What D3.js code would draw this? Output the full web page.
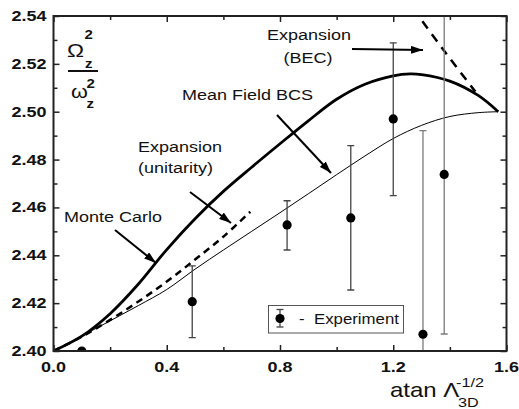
<!DOCTYPE html>
<html><head><meta charset="utf-8">
<script src="https://cdn.jsdelivr.net/npm/d3@7"></script>
<style>body{margin:0;background:#fff}svg{display:block}</style>
</head><body>
<script>
// ---- data ----
const bcsX  = [0, 0.1, 0.2, 0.3, 0.4, 0.5, 0.6, 0.7, 0.8, 0.9, 1.0, 1.1, 1.2, 1.26, 1.3, 1.4, 1.5, 1.5708];
const bcsY  = [2.400, 2.4062, 2.4156, 2.4280, 2.4424, 2.4553, 2.4667, 2.4768, 2.4866, 2.4962, 2.5052, 2.5115, 2.5150, 2.5158, 2.5155, 2.5128, 2.5068, 2.5000];
const mcX   = [0, 0.1, 0.2, 0.3, 0.4, 0.5, 0.6, 0.7, 0.8, 0.9, 1.0, 1.1, 1.2, 1.3, 1.4, 1.5, 1.5708];
const mcY   = [2.400, 2.4063, 2.4126, 2.4190, 2.4257, 2.4342, 2.4422, 2.4500, 2.4578, 2.4657, 2.4737, 2.4815, 2.4888, 2.4943, 2.4980, 2.4996, 2.5000];
const unitX = [0, 0.1, 0.2, 0.3, 0.4, 0.5, 0.6, 0.695];
const unitY = [2.400, 2.4060, 2.4130, 2.4207, 2.4290, 2.4382, 2.4478, 2.4582];
const becX  = [1.27, 1.373, 1.49];
const becY  = [2.5432, 2.5265, 2.5084];
const expX  = [0.10, 0.49, 0.825, 1.05, 1.20, 1.305, 1.38];
const expY  = [2.400, 2.4206, 2.4527, 2.4556, 2.4970, 2.4070, 2.4738];
const expLo = [2.400, 2.4056, 2.4422, 2.4255, 2.4649, 2.3500, 2.4071];
const expHi = [2.400, 2.4356, 2.4628, 2.4858, 2.5288, 2.4921, 2.5800];
const xTicks = [0.0, 0.4, 0.8, 1.2, 1.6];
const xTickLabels = ["0.0", "0.4", "0.8", "1.2", "1.6"];
const yTicks = [2.40, 2.42, 2.44, 2.46, 2.48, 2.50, 2.52, 2.54];
const yTickLabels = ["2.40", "2.42", "2.44", "2.46", "2.48", "2.50", "2.52", "2.54"];
const xMinor = [0.2, 0.6, 1.0, 1.4];
const yMinor = [2.41, 2.43, 2.45, 2.47, 2.49, 2.51, 2.53];

// ---- layout ----
const W = 519, H = 409;
const L = 53.5, R = 506.5, T = 16, B = 351;
const FONT = "'Liberation Sans', Arial, Helvetica, sans-serif";
const SX = 1.2; // horizontal stretch of glyphs in reference

const x = d3.scaleLinear().domain([0, 1.6]).range([L, R]);
const y = d3.scaleLinear().domain([2.40, 2.54]).range([B, T]);

const svg = d3.select("body").append("svg").attr("width", W).attr("height", H);
const defs = svg.append("defs");
defs.append("clipPath").attr("id", "plot").append("rect")
  .attr("x", L).attr("y", T).attr("width", R - L).attr("height", B - T);
defs.append("marker").attr("id", "arr").attr("markerUnits", "userSpaceOnUse")
  .attr("viewBox", "0 0 12 8").attr("refX", 12).attr("refY", 4)
  .attr("markerWidth", 12).attr("markerHeight", 8).attr("orient", "auto")
  .append("path").attr("d", "M0,0 L12,4 L0,8 Z").attr("fill", "#000");

function txt(str, px, py, size, opts = {}) {
  return svg.append("text")
    .attr("transform", `translate(${px},${py}) scale(${SX},1)`)
    .attr("font-family", FONT).attr("font-size", size)
    .attr("font-weight", opts.bold ? "bold" : "normal")
    .attr("text-anchor", opts.anchor || "start")
    .attr("fill", opts.fill || "#111")
    .text(str);
}

// ---- plot content ----
const g = svg.append("g").attr("clip-path", "url(#plot)");
const line = (xs, ys) => d3.line().x((d, i) => x(xs[i])).y((d, i) => y(ys[i])).curve(d3.curveCatmullRom.alpha(0.5))(xs);

g.append("path").attr("d", line(mcX, mcY)).attr("fill", "none").attr("stroke", "#000").attr("stroke-width", 1);
g.append("path").attr("d", line(unitX, unitY)).attr("fill", "none").attr("stroke", "#000").attr("stroke-width", 2.5).attr("stroke-dasharray", "7,5");
g.append("path").attr("d", line(bcsX, bcsY)).attr("fill", "none").attr("stroke", "#000").attr("stroke-width", 2.8);
g.append("path").attr("d", line(becX, becY)).attr("fill", "none").attr("stroke", "#000").attr("stroke-width", 2.5).attr("stroke-dasharray", "9,7");

// error bars + points
expX.forEach((xv, i) => {
  if (expHi[i] === expLo[i]) return;
  const clipped = expHi[i] > 2.54 || expLo[i] < 2.40;
  const col = clipped ? "#7a7a7a" : "#444";
  g.append("line").attr("x1", x(xv)).attr("x2", x(xv)).attr("y1", y(expLo[i])).attr("y2", y(expHi[i]))
    .attr("stroke", col).attr("stroke-width", 1.3);
  [expLo[i], expHi[i]].forEach(v => {
    g.append("line").attr("x1", x(xv) - 3.5).attr("x2", x(xv) + 3.5).attr("y1", y(v)).attr("y2", y(v))
      .attr("stroke", col).attr("stroke-width", 1.3);
  });
});
g.selectAll("circle.pt").data(expX).join("circle").attr("class", "pt")
  .attr("cx", d => x(d)).attr("cy", (d, i) => y(expY[i])).attr("r", 4.6).attr("fill", "#000");

// ---- axes frame & ticks ----
function ticks(axis, tr, major, minor) {
  const a = svg.append("g").attr("transform", tr).call(axis.tickValues(major).tickSize(-6).tickFormat(""));
  a.select(".domain").remove();
  const b = svg.append("g").attr("transform", tr).call(axis.tickValues(minor).tickSize(-4).tickFormat(""));
  b.select(".domain").remove();
  svg.selectAll(".tick line").attr("stroke", "#222").attr("stroke-width", 1.5);
}
ticks(d3.axisBottom(x), `translate(0,${B})`, xTicks, xMinor);
ticks(d3.axisTop(x), `translate(0,${T})`, xTicks, xMinor);
ticks(d3.axisLeft(y), `translate(${L},0)`, yTicks, yMinor);
ticks(d3.axisRight(y), `translate(${R},0)`, yTicks, yMinor);
svg.append("rect").attr("x", L).attr("y", T).attr("width", R - L).attr("height", B - T)
  .attr("fill", "none").attr("stroke", "#222").attr("stroke-width", 2);

xTicks.forEach((v, i) => txt(xTickLabels[i], x(v), 372, 15, { bold: true, anchor: "middle" }));
yTicks.forEach((v, i) => txt(yTickLabels[i], 46.5, y(v) + 5, 15, { bold: true, anchor: "end" }));

// ---- axis titles ----
txt("atan Λ", 390, 397, 20);
txt("-1/2", 456, 387, 13.5);
txt("3D", 458, 407, 13.5);

txt("Ω", 67, 56.5, 19);
txt("2", 84.5, 38.5, 12.5, { bold: true });
txt("z", 85, 67.5, 12.5, { bold: true });
svg.append("line").attr("x1", 68).attr("x2", 98).attr("y1", 71).attr("y2", 71).attr("stroke", "#111").attr("stroke-width", 2);
txt("ω", 71, 97.5, 18);
txt("2", 86.5, 87.5, 12.5, { bold: true });
txt("z", 86.5, 108, 12.5, { bold: true });

// ---- annotations ----
txt("Expansion", 309, 40, 15, { anchor: "middle" });
txt("(BEC)", 308, 63, 15, { anchor: "middle" });
txt("Mean Field BCS", 182, 100, 15);
txt("Expansion", 138, 151.5, 15);
txt("(unitarity)", 138, 173, 15);
txt("Monte Carlo", 64, 222, 15);

function arrow(x1, y1, x2, y2) {
  svg.append("line").attr("x1", x1).attr("y1", y1).attr("x2", x2).attr("y2", y2)
    .attr("stroke", "#000").attr("stroke-width", 2).attr("marker-end", "url(#arr)");
}
arrow(352, 49, 423, 50);
arrow(277, 115, 331, 173);
arrow(190, 192, 231, 223);
arrow(115, 230, 156, 263);

// ---- legend ----
svg.append("rect").attr("x", 268.5).attr("y", 305.5).attr("width", 135).attr("height", 27.5)
  .attr("fill", "#fff").attr("stroke", "#555").attr("stroke-width", 1);
svg.append("line").attr("x1", 280).attr("x2", 280).attr("y1", 309.5).attr("y2", 327).attr("stroke", "#444").attr("stroke-width", 1.3);
[309.5, 327].forEach(v => svg.append("line").attr("x1", 276.5).attr("x2", 283.5).attr("y1", v).attr("y2", v).attr("stroke", "#444").attr("stroke-width", 1.3));
svg.append("circle").attr("cx", 280).attr("cy", 318.5).attr("r", 4.6).attr("fill", "#000");
txt("-", 299, 323.5, 14);
txt("Experiment", 314, 323.5, 14);
</script>
</body></html>
